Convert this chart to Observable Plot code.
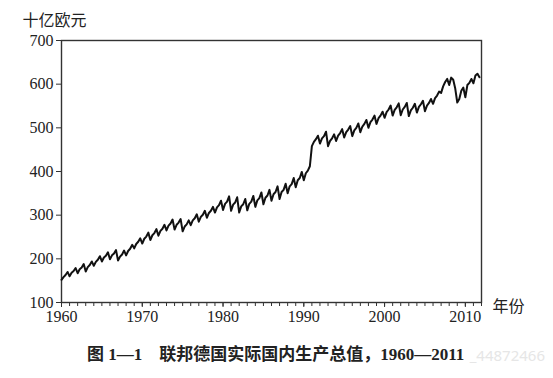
<!DOCTYPE html>
<html><head><meta charset="utf-8">
<script src="https://cdn.jsdelivr.net/npm/d3@7"></script>
<script src="https://cdn.jsdelivr.net/npm/@observablehq/plot@0.6"></script>
<style>
body{margin:0;background:#fff;width:553px;height:378px;overflow:hidden;position:relative;font-family:"Liberation Serif",serif;}
#chart{position:absolute;left:0;top:0;}
#cap{position:absolute;left:87px;top:344px;font-family:"Liberation Serif","Noto Sans CJK SC",serif;font-weight:bold;font-size:17px;line-height:22px;color:#222;white-space:pre;}
#wm{position:absolute;right:8px;top:345px;font-family:"Noto Sans",sans-serif;font-size:15px;line-height:20px;color:#e6e6e6;}
</style></head><body>
<div id="chart"></div>
<div id="wm">_44872466</div>
<div id="cap"></div>
<script>
const startYear = 1960;
const gdp1960s = [152,158,163,170, 160,168,172,179, 167,176,180,188, 171,181,186,194, 184,193,198,206,
                  194,203,207,215, 199,208,212,220, 196,205,210,219, 208,218,223,232, 224,234,239,247];
const gdp1970s = [235,246,251,260, 243,254,259,268, 253,264,269,278, 265,276,281,290, 267,278,283,291,
                  263,274,279,288, 277,288,293,302, 285,296,301,310, 294,305,310,319, 306,318,323,333];
const gdp1980s = [312,326,331,343, 310,324,329,341, 306,320,325,337, 311,326,331,344, 319,334,339,352,
                  325,340,345,358, 333,348,353,366, 337,353,358,372, 350,366,371,385, 364,380,385,399];
const gdp1990s = [380,396,402,412, 458,468,474,482, 464,476,481,491, 458,470,476,485, 470,482,488,497,
                  478,490,496,504, 481,494,500,510, 490,503,509,518, 500,513,519,528, 509,522,528,537];
const gdp2000s = [523,536,542,551, 528,541,547,556, 529,542,548,557, 527,540,546,555, 535,548,554,562,
                  538,551,557,566, 555,568,574,583, 580,595,605,612, 598,615,610,590, 558,566,585,592];
const gdp2010s = [570,598,603,612, 602,620,624,616];

const xTicks = [1960, 1970, 1980, 1990, 2000, 2010];
const yTicks = [100, 200, 300, 400, 500, 600, 700];
const yLabel = "十亿欧元";
const xLabel = "年份";
const caption = "图 1—1　联邦德国实际国内生产总值，1960—2011";

const values = [...gdp1960s, ...gdp1970s, ...gdp1980s, ...gdp1990s, ...gdp2000s, ...gdp2010s];
const data = values.map((v, i) => ({t: startYear + i / 4, v}));
const minorTicks = d3.range(1960, 2013, 1);

const chart = Plot.plot({
  width: 553, height: 332,
  marginLeft: 61, marginRight: 72, marginTop: 40, marginBottom: 30,
  x: {domain: [1960, 2012]},
  y: {domain: [100, 700]},
  style: {fontFamily: "Liberation Serif, serif", fontSize: "16px", color: "#222", background: "white"},
  marks: [
    Plot.axisX({ticks: minorTicks, tickSize: 4, text: null, label: null, stroke: "#333"}),
    Plot.axisX({ticks: xTicks, tickSize: 5, tickPadding: 3, label: null, tickFormat: d => String(d), fontSize: 16, stroke: "#333"}),
    Plot.axisY({ticks: yTicks, tickSize: 5, tickPadding: 3, label: null, tickFormat: d => String(d), fontSize: 16, stroke: "#333"}),
    Plot.frame({stroke: "#333", strokeWidth: 1.4}),
    Plot.lineY(data, {x: "t", y: "v", stroke: "#111", strokeWidth: 2, strokeLinejoin: "round"}),
    Plot.text([yLabel], {text: d => d, frameAnchor: "top-left", dx: -39, dy: -26, textAnchor: "start",
      fontFamily: "Noto Sans CJK SC", fontSize: 16, fill: "#222"}),
    Plot.text([xLabel], {text: d => d, frameAnchor: "bottom-right", dx: 11, dy: 9, textAnchor: "start",
      fontFamily: "Noto Sans CJK SC", fontSize: 16, fill: "#222"})
  ]
});
document.getElementById("chart").appendChild(chart);
document.getElementById("cap").textContent = caption;
</script>
</body></html>
